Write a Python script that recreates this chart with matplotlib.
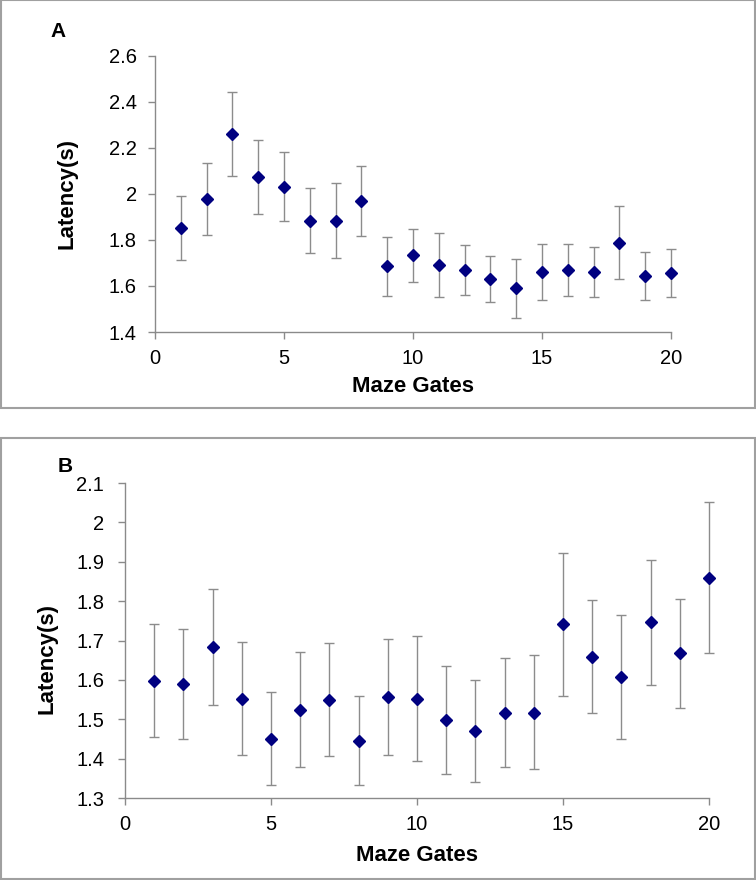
import matplotlib
matplotlib.use("Agg")
import matplotlib.pyplot as plt
from matplotlib.patches import Rectangle
import numpy as np

plt.rcParams['font.family'] = ['Liberation Sans', 'DejaVu Sans']

# ---------------- data ----------------
gates = list(range(1, 21))

# Panel A
a_mean  = [1.852, 1.978, 2.262, 2.075, 2.032, 1.884, 1.884, 1.970, 1.686, 1.733,
           1.690, 1.671, 1.632, 1.591, 1.660, 1.671, 1.661, 1.788, 1.642, 1.657]
a_upper = [1.990, 2.133, 2.445, 2.235, 2.181, 2.026, 2.046, 2.122, 1.814, 1.848,
           1.829, 1.778, 1.730, 1.719, 1.781, 1.783, 1.771, 1.949, 1.748, 1.761]
a_lower = [1.714, 1.823, 2.078, 1.913, 1.883, 1.742, 1.720, 1.817, 1.557, 1.616,
           1.552, 1.561, 1.529, 1.462, 1.538, 1.557, 1.552, 1.629, 1.538, 1.553]

# Panel B
b_mean  = [1.598, 1.590, 1.683, 1.551, 1.450, 1.524, 1.549, 1.445, 1.557, 1.551,
           1.499, 1.470, 1.516, 1.517, 1.741, 1.658, 1.608, 1.746, 1.667, 1.860]
b_upper = [1.742, 1.730, 1.831, 1.695, 1.569, 1.671, 1.693, 1.558, 1.704, 1.711,
           1.636, 1.599, 1.655, 1.663, 1.923, 1.802, 1.766, 1.905, 1.806, 2.052]
b_lower = [1.454, 1.450, 1.535, 1.409, 1.332, 1.379, 1.407, 1.332, 1.409, 1.394,
           1.360, 1.341, 1.378, 1.373, 1.559, 1.515, 1.450, 1.586, 1.528, 1.667]

a_yticks = [1.4, 1.6, 1.8, 2.0, 2.2, 2.4, 2.6]
a_yticklabels = ['1.4', '1.6', '1.8', '2', '2.2', '2.4', '2.6']
b_yticks = [1.3, 1.4, 1.5, 1.6, 1.7, 1.8, 1.9, 2.0, 2.1]
b_yticklabels = ['1.3', '1.4', '1.5', '1.6', '1.7', '1.8', '1.9', '2', '2.1']
xticks = [0, 5, 10, 15, 20]

W, H = 756, 880
fig = plt.figure(figsize=(W / 100, H / 100), dpi=100)

def px_rect(x0, y0, x1, y1):
    return [x0 / W, 1 - y1 / H, (x1 - x0) / W, (y1 - y0) / H]

axis_grey = '#8a8a8a'
err_grey = '#8c8c8c'
navy = '#000080'

def make_panel(rect, mean, lower, upper, ylim, yticks, yticklabels, ypad, ylab_xy, xlab_xy):
    ax = fig.add_axes(rect)
    mean = np.array(mean); lower = np.array(lower); upper = np.array(upper)
    yerr = np.vstack([mean - lower, upper - mean])
    eb = ax.errorbar(gates, mean, yerr=yerr, fmt='none', ecolor=err_grey,
                     elinewidth=1.0, capsize=3.6, capthick=1.0, zorder=2)
    for child in eb.get_children():
        child.set_clip_on(False)
    ax.plot(gates, mean, linestyle='none', marker='D', markersize=6.4,
            color=navy, markeredgecolor=navy, zorder=3, clip_on=False)
    ax.set_xlim(0, 20)
    ax.set_ylim(*ylim)
    ax.set_xticks(xticks)
    ax.set_xticklabels([str(t) for t in xticks])
    ax.set_yticks(yticks)
    ax.set_yticklabels(yticklabels)
    for s in ['top', 'right']:
        ax.spines[s].set_visible(False)
    for s in ['left', 'bottom']:
        ax.spines[s].set_color(axis_grey)
        ax.spines[s].set_linewidth(1.0)
    ax.tick_params(axis='both', direction='out', length=5, width=1.0,
                   color=axis_grey, labelsize=14.5, labelcolor='black')
    ax.tick_params(axis='x', pad=7)
    ax.tick_params(axis='y', pad=ypad)
    ax.set_ylabel('Latency(s)', fontsize=16, fontweight='bold')
    ax.set_xlabel('Maze Gates', fontsize=16, fontweight='bold')
    ax.yaxis.set_label_coords(*ylab_xy)
    ax.xaxis.set_label_coords(*xlab_xy)
    ax.patch.set_alpha(0)
    return ax

# Panel A axes: x 155..671, y 56..332
axA = make_panel(px_rect(155, 56, 671, 332), a_mean, a_lower, a_upper,
                 (1.4, 2.6), a_yticks, a_yticklabels, 8,
                 ((67 - 155) / 516, 0.5), (0.5, -(387 - 332) / 276))
# Panel B axes: x 125..709, y 483..798
axB = make_panel(px_rect(125, 483, 709, 798), b_mean, b_lower, b_upper,
                 (1.3, 2.1), b_yticks, b_yticklabels, 10,
                 ((47 - 125) / 584, (798 - 658) / 315), (0.5, -(855 - 798) / 315))
for ax in (axA, axB):
    ax.xaxis.label.set_va('center')
    ax.yaxis.label.set_va('center')

# panel borders
for (x0, y0, x1, y1) in [(1, 0.5, 755, 408), (1, 438, 755, 879)]:
    fig.patches.append(Rectangle((x0 / W, 1 - y1 / H), (x1 - x0) / W, (y1 - y0) / H,
                                 transform=fig.transFigure, fill=False,
                                 edgecolor='#a0a0a0', linewidth=1.5))

fig.text(50 / W, 1 - 37 / H, 'A', fontsize=15, fontweight='bold', ha='left', va='baseline')
fig.text(58 / W, 1 - 472 / H, 'B', fontsize=15, fontweight='bold', ha='left', va='baseline')

fig.savefig('out.png', dpi=100)
